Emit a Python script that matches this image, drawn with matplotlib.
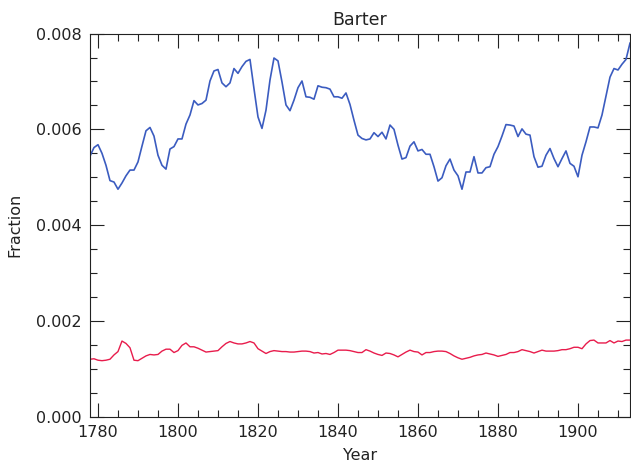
import numpy as np
import matplotlib
matplotlib.use('Agg')
import matplotlib.pyplot as plt
from matplotlib.ticker import MultipleLocator

# Yearly fractions (in units of 1e-3)
years = np.arange(1778, 1914)

barter = [
    5.44, 5.62, 5.68, 5.50, 5.25, 4.93, 4.90, 4.75, 4.88, 5.03,
    5.15, 5.15, 5.32, 5.65, 5.97, 6.04, 5.86, 5.46, 5.25, 5.17,
    5.59, 5.64, 5.80, 5.80, 6.11, 6.30, 6.60, 6.51, 6.54, 6.61,
    7.01, 7.22, 7.25, 6.97, 6.89, 6.97, 7.27, 7.17, 7.31, 7.42,
    7.46, 6.85, 6.26, 6.02, 6.40, 7.03, 7.49, 7.43, 6.99, 6.51,
    6.39, 6.61, 6.87, 7.01, 6.68, 6.67, 6.63, 6.91, 6.88, 6.87,
    6.84, 6.68, 6.68, 6.65, 6.76, 6.52, 6.19, 5.88,
    5.81, 5.78, 5.80, 5.93, 5.85, 5.94, 5.80, 6.09, 6.00, 5.67,
    5.38, 5.41, 5.65, 5.74, 5.55, 5.58, 5.48, 5.48, 5.22, 4.92,
    4.99, 5.24, 5.38, 5.15, 5.03, 4.75, 5.11, 5.11, 5.43, 5.09,
    5.09, 5.20, 5.22, 5.48, 5.64, 5.86, 6.10, 6.09, 6.07, 5.85,
    6.01, 5.90, 5.88, 5.43, 5.21, 5.23, 5.46, 5.60, 5.39, 5.22,
    5.39, 5.55, 5.29, 5.23, 5.01, 5.46, 5.74, 6.05, 6.05, 6.03,
    6.30, 6.70, 7.09, 7.27, 7.24, 7.36, 7.46, 7.80,
]

other = [
    1.20, 1.21, 1.18, 1.17, 1.18, 1.20, 1.29, 1.36, 1.58, 1.53,
    1.44, 1.18, 1.17, 1.22, 1.27, 1.30, 1.29, 1.30, 1.37, 1.41,
    1.41, 1.34, 1.38, 1.49, 1.54, 1.46, 1.46, 1.43, 1.39, 1.35,
    1.36, 1.37, 1.38, 1.46, 1.53, 1.57, 1.54, 1.52, 1.52, 1.54,
    1.57, 1.54, 1.42, 1.37, 1.32, 1.36, 1.38, 1.37, 1.36, 1.36,
    1.35, 1.35, 1.36, 1.37, 1.37, 1.36, 1.33, 1.34, 1.31, 1.32,
    1.30, 1.34, 1.39, 1.39, 1.39, 1.38, 1.36, 1.34,
    1.34, 1.40, 1.37, 1.33, 1.30, 1.28, 1.33, 1.32, 1.29, 1.25,
    1.30, 1.35, 1.39, 1.36, 1.35, 1.29, 1.34, 1.34, 1.36, 1.37,
    1.37, 1.36, 1.32, 1.27, 1.23, 1.20, 1.22, 1.24, 1.27, 1.29,
    1.30, 1.33, 1.31, 1.29, 1.26, 1.28, 1.30, 1.34, 1.34, 1.36,
    1.40, 1.38, 1.36, 1.33, 1.36, 1.39, 1.37, 1.37, 1.37, 1.38,
    1.40, 1.40, 1.42, 1.45, 1.45, 1.42, 1.52, 1.59, 1.60, 1.54,
    1.54, 1.54, 1.59, 1.54, 1.58, 1.57, 1.60, 1.60,
]

barter = np.array(barter) * 1e-3
other = np.array(other) * 1e-3

plt.rcParams['font.family'] = 'DejaVu Sans'
fig = plt.figure(figsize=(6.31, 4.73), dpi=100)
ax = fig.add_axes([0.1426, 0.119, 0.8558, 0.810])

ax.plot(years, barter, color='#3b5cc0', lw=1.2)
ax.plot(years, other, color='#e81c4c', lw=1.0)

ax.set_xlim(1778, 1913)
ax.set_ylim(0, 0.008)

ax.xaxis.set_major_locator(MultipleLocator(20))
ax.xaxis.set_minor_locator(MultipleLocator(5))
ax.yaxis.set_major_locator(MultipleLocator(0.002))
ax.yaxis.set_minor_locator(MultipleLocator(0.0005))
ax.yaxis.set_major_formatter(plt.FuncFormatter(lambda v, p: f'{v:.3f}'))

ax.tick_params(which='both', direction='in', top=True, right=True,
               color='#222222', width=0.8, labelsize=11.5, labelcolor='#222222')
ax.tick_params(which='major', length=10, pad=6)
ax.tick_params(which='minor', length=5)

for spine in ax.spines.values():
    spine.set_color('#222222')
    spine.set_linewidth(0.8)

ax.set_title('Barter', fontsize=12.5, color='#222222', pad=6)
ax.set_xlabel('Year', fontsize=11.5, color='#222222', labelpad=6)
ax.set_ylabel('Fraction', fontsize=11.5, color='#222222', labelpad=10)

fig.savefig('out.png', dpi=100)
